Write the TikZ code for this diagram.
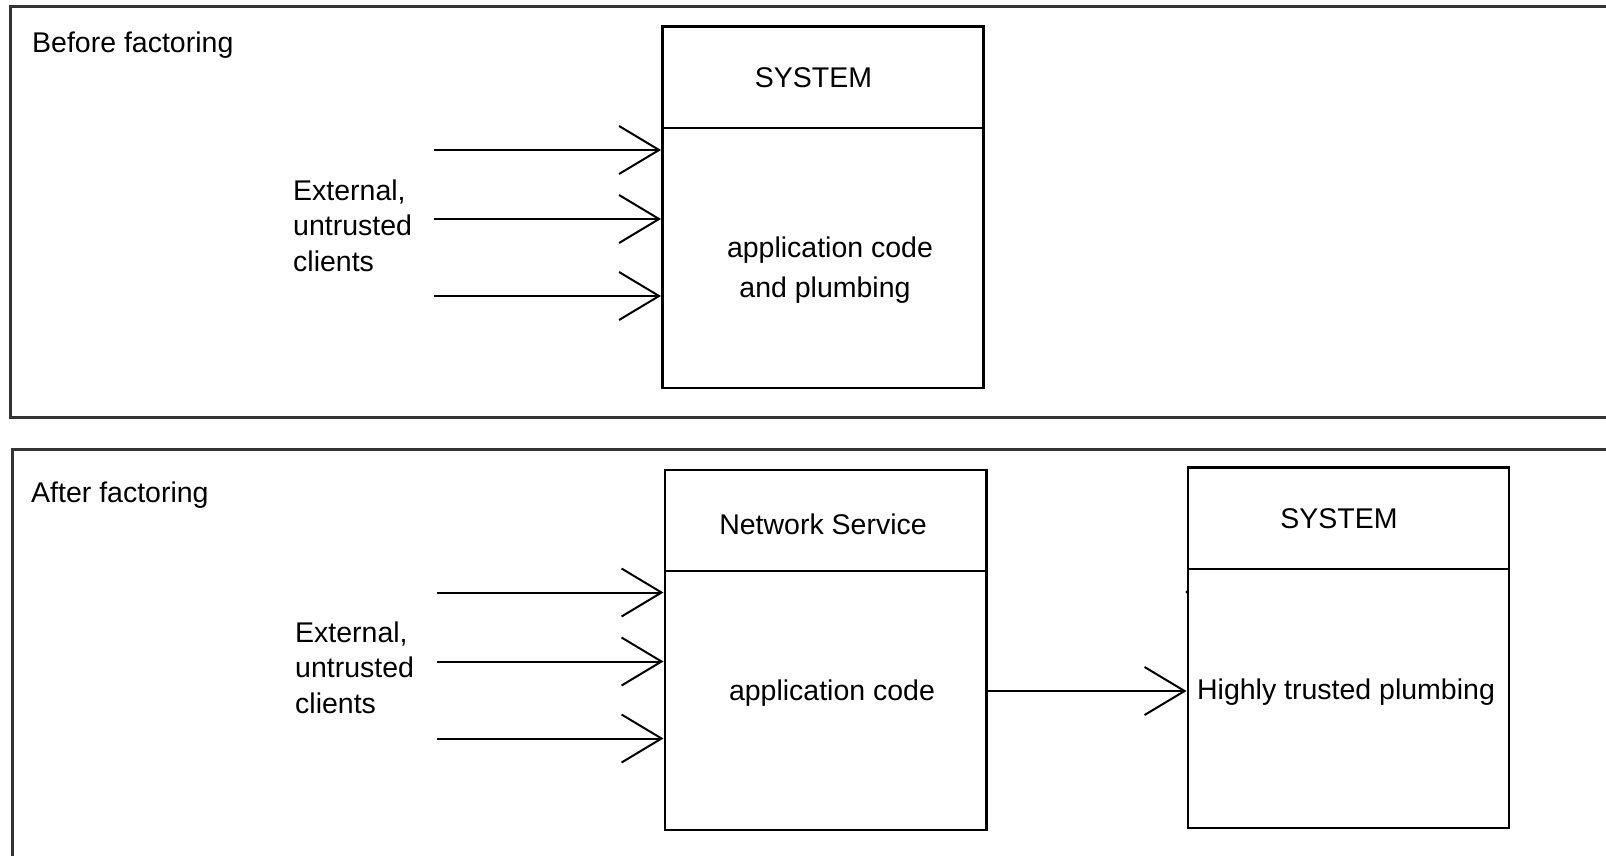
\documentclass[tikz,border=0pt]{standalone}
\usepackage{fontspec}
\setmainfont{Liberation Sans}
\usetikzlibrary{arrows.meta}

\begin{document}
\begin{tikzpicture}[x=1pt,y=-1pt,
  frame/.style={line width=3pt, draw=black!80},
  box/.style={draw, line width=2.5pt, rectangle, inner sep=0pt, anchor=north west},
  divider/.style={line width=2.5pt},
  lbl/.style={font=\fontsize{28.5}{34}\selectfont, inner sep=0pt},
  flow/.style={line width=2pt, -{Straight Barb[length=40pt,width=48pt,line width=2pt]}},
]
\useasboundingbox (0,0) rectangle (1606,856);
\fill[white] (0,0) rectangle (1606,856);

% panel frames, open towards the right and bottom edges
\begin{scope}
  \clip (0,0) rectangle (1606,856);
  \draw[frame] (1620,7) -- (10,7) -- (10,417) -- (1620,417);
  \draw[frame] (1620,449) -- (12.5,449) -- (12.5,870);
\end{scope}

% ---------- before factoring ----------
\node[lbl, anchor=base west] (before) at (32,53) {Before factoring};

\node[box, minimum width=321pt, minimum height=361pt] (sys1) at (661,25.5) {};
\draw[divider] (sys1.west |- 0,128) -- (sys1.east |- 0,128);
\node[lbl, anchor=base] (sys1title) at (813.5,88) {SYSTEM};
\node[lbl, anchor=base] (sys1a) at (830,257) {application code};
\node[lbl, anchor=base] (sys1b) at (825,297) {and plumbing};

\node[lbl, anchor=base west] (extA1) at (293,200) {External,};
\node[lbl, anchor=base west] (extA2) at (293,235.5) {untrusted};
\node[lbl, anchor=base west] (extA3) at (293,271) {clients};

\coordinate (a1) at (434,150);
\coordinate (a2) at (434,219);
\coordinate (a3) at (434,296);
\draw[flow] (a1) -- (a1 -| sys1.west);
\draw[flow] (a2) -- (a2 -| sys1.west);
\draw[flow] (a3) -- (a3 -| sys1.west);

% ---------- after factoring ----------
\node[lbl, anchor=base west] (after) at (31,502) {After factoring};

\node[box, minimum width=321.5pt, minimum height=360pt] (ns) at (663.5,468.5) {};
\draw[divider] (ns.west |- 0,571) -- (ns.east |- 0,571);
\node[lbl, anchor=base] (nstitle) at (823,534) {Network Service};
\node[lbl, anchor=base] (nsbody) at (832,700) {application code};

\node[box, minimum width=321pt, minimum height=360.5pt] (sys2) at (1186.5,466) {};
\draw[divider] (sys2.west |- 0,569) -- (sys2.east |- 0,569);
\node[lbl, anchor=base] (sys2title) at (1339,528) {SYSTEM};
\node[lbl, anchor=base] (sys2body) at (1346,699) {Highly trusted plumbing};
\fill (1187,592) circle (1.6pt);

\node[lbl, anchor=base west] (extB1) at (295,642) {External,};
\node[lbl, anchor=base west] (extB2) at (295,677.5) {untrusted};
\node[lbl, anchor=base west] (extB3) at (295,713) {clients};

\coordinate (b1) at (437,592.5);
\coordinate (b2) at (437,661.5);
\coordinate (b3) at (437,738.5);
\draw[flow] (b1) -- (b1 -| ns.west);
\draw[flow] (b2) -- (b2 -| ns.west);
\draw[flow] (b3) -- (b3 -| ns.west);

\draw[flow] (ns.east |- 0,691) -- (sys2.west |- 0,691);
\end{tikzpicture}
\end{document}
